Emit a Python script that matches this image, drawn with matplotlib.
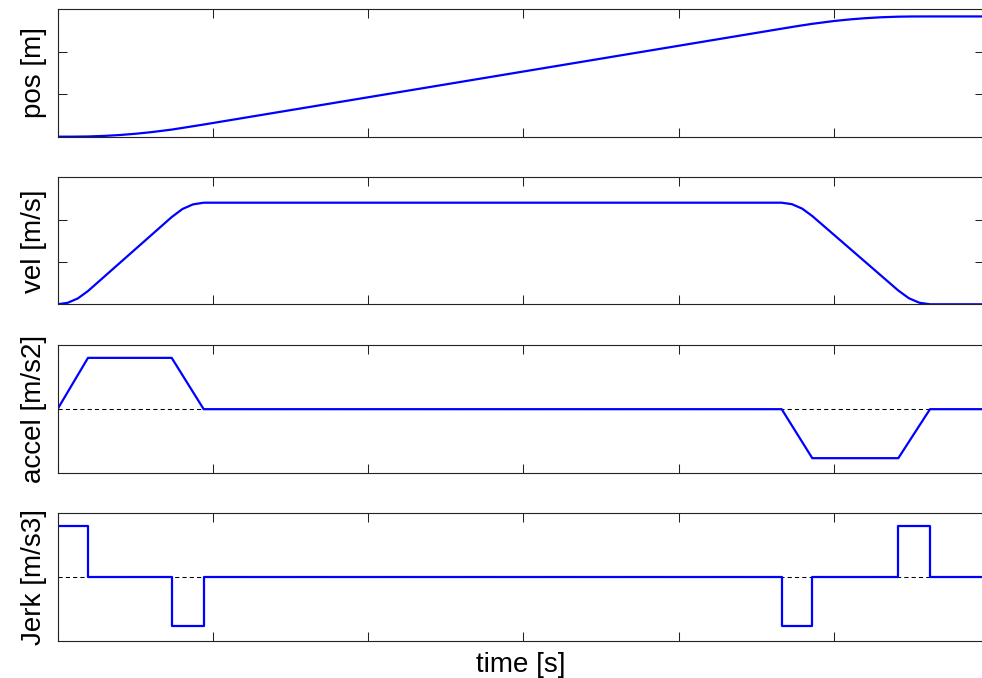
import matplotlib
matplotlib.use("Agg")
import matplotlib.pyplot as plt

plt.rcParams["font.family"] = ["Liberation Sans", "DejaVu Sans"]

# breakpoints of the motion profile (time in s)
t_steps = [0, 0.196, 0.735, 0.941, 4.663, 4.860, 5.414, 5.618, 5.963]
accel = [0, 1.0, 1.0, 0, 0, -0.955, -0.955, 0, 0]
jerk = [1.0, 0, -0.96, 0, -0.96, 0, 1.0, 0, 0]

t_vel = [0, 0.065, 0.131, 0.196, 0.735, 0.804, 0.872, 0.941,
         4.663, 4.729, 4.795, 4.860, 5.414, 5.482, 5.550, 5.618, 5.963]
vel = [0, 0.035, 0.139, 0.313, 2.06, 2.25, 2.36, 2.4,
       2.4, 2.365, 2.26, 2.085, 0.325, 0.143, 0.036, 0, 0]

t_pos = [0, 0.1, 0.196, 0.3, 0.4, 0.5, 0.6, 0.735, 0.8, 0.87, 0.941,
         4.663, 4.765, 4.86, 5.0, 5.1, 5.2, 5.3, 5.414, 5.5, 5.618, 5.963]
pos = [0, 0.003, 0.020, 0.073, 0.156, 0.272, 0.421, 0.668, 0.817, 0.979, 1.144,
       10.174, 10.419, 10.631, 10.895, 11.044, 11.161, 11.246, 11.304, 11.322,
       11.326, 11.326]

x_ticks = [0, 1, 2, 3, 4, 5]
x_max = 5.963

BLUE = (0, 0, 1)

fig = plt.figure(figsize=(9.82, 6.78), dpi=100)

# axes boxes in figure fractions (left, bottom, width, height)
boxes = [
    (0.0586, 0.7984, 0.943, 0.1879),
    (0.0586, 0.5512, 0.943, 0.1873),
    (0.0586, 0.3019, 0.943, 0.1892),
    (0.0586, 0.0546, 0.943, 0.1883),
]
axes = [fig.add_axes(b) for b in boxes]


def style(ax, label, yticks, ylim):
    ax.set_xlim(0, x_max)
    ax.set_ylim(*ylim)
    ax.set_xticks(x_ticks)
    ax.set_yticks(yticks)
    ax.tick_params(direction="in", length=6.5, width=0.75, top=True, right=True,
                   labelbottom=False, labelleft=False, color="#222222")
    for s in ax.spines.values():
        s.set_linewidth(0.8)
        s.set_color("#222222")
    ax.set_ylabel(label, fontsize=20, va="center")
    ax.yaxis.set_label_coords(-0.025, 0.5)


ax_pos, ax_vel, ax_acc, ax_jerk = axes

ax_pos.plot(t_pos, pos, color=BLUE, lw=1.6)
style(ax_pos, "pos [m]", [4, 8], (0, 12))

ax_vel.plot(t_vel, vel, color=BLUE, lw=1.6)
style(ax_vel, "vel [m/s]", [1, 2], (0, 3))

ax_acc.axhline(0, color="k", lw=0.75, dashes=(4, 3))
ax_acc.plot(t_steps, accel, color=BLUE, lw=1.6)
style(ax_acc, "accel [m/s2]", [], (-1.25, 1.25))

ax_jerk.axhline(0, color="k", lw=0.75, dashes=(4, 3))
ax_jerk.step(t_steps, jerk, where="post", color=BLUE, lw=1.6)
style(ax_jerk, "Jerk [m/s3]", [], (-1.25, 1.25))
ax_jerk.set_xlabel("time [s]", fontsize=20, va="center")
ax_jerk.xaxis.set_label_coords(0.5, -0.19)

fig.savefig("out.png", dpi=100)
